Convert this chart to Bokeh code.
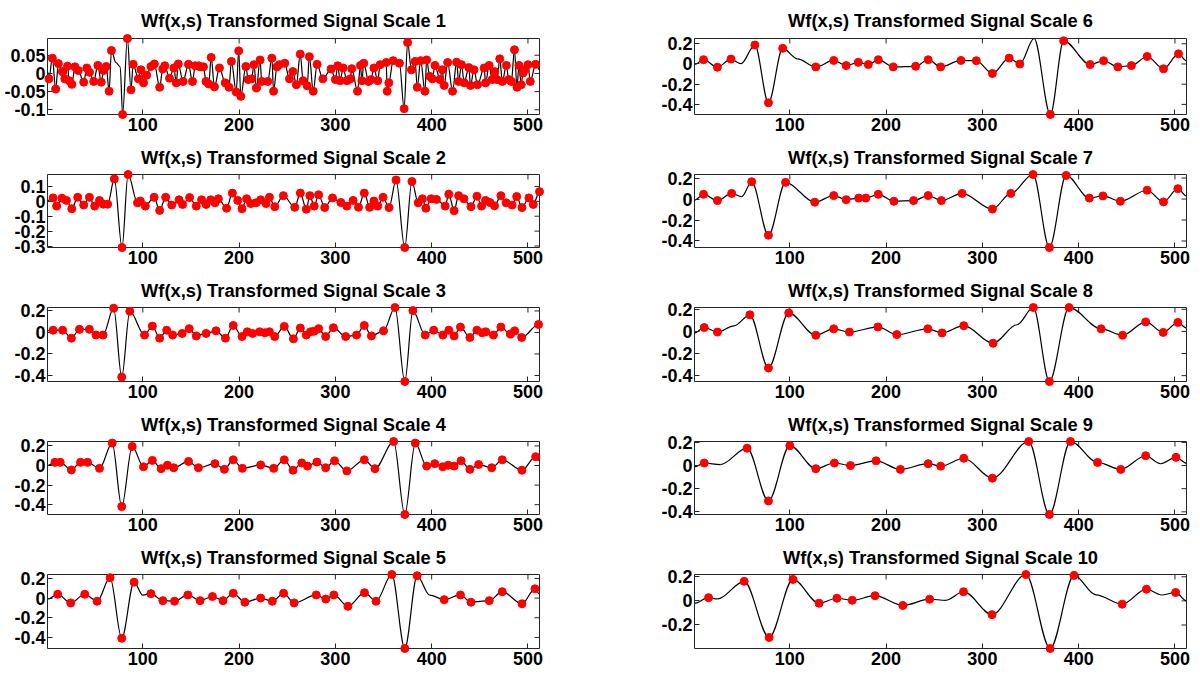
import numpy as np
from bokeh.plotting import figure
from bokeh.layouts import column, row
from bokeh.models import Range1d, FixedTicker, CustomJSTickFormatter
from bokeh.embed import file_html
from bokeh.resources import INLINE

# ---------------- data ----------------
x_ticks = [100, 200, 300, 400, 500]
titles = ["Wf(x,s) Transformed Signal Scale %d" % k for k in range(1, 11)]

# red dots: (position, value) of the extrema of each scale
scale1_pts = [(2.5, -0.015), (6, 0.042), (9.5, -0.043), (12.3, 0.027), (16.5, 0.005), (19, -0.015),
              (21.8, 0.02), (23.5, -0.02), (26.3, -0.03), (29.5, 0.018), (33, 0.008), (38.6, -0.024),
              (41.8, 0.015), (44.6, 0.003), (49, -0.022), (53.3, 0.022), (56.8, -0.024), (59.3, 0.008),
              (62, 0.019), (65, -0.049), (67.4, 0.063), (79, -0.113), (84, 0.096), (87.7, -0.045),
              (90, 0.025), (95.4, -0.015), (98, 0.01), (100.7, -0.026), (104, -0.005), (108.4, 0.019),
              (112, 0.026), (117.5, -0.038), (120.7, 0.012), (122.8, 0.021), (127.7, -0.013), (132.3, 0.015),
              (134.7, -0.026), (136.8, 0.026), (141.8, -0.022), (147.4, 0.025), (151.6, -0.022), (154.4, 0.021),
              (158, 0.021), (159.6, 0.018), (163, 0.018), (165.6, -0.022), (168.5, -0.029), (171, 0.044),
              (174.4, -0.037), (179.6, 0.015), (185.6, -0.026), (189.5, -0.038), (192, 0.033), (197, -0.051),
              (199.6, 0.062), (201.8, -0.063), (207, 0.019), (209.5, -0.017), (213, -0.015), (215.4, 0.024),
              (218, -0.04), (221.8, 0.037), (223.5, -0.022), (229.8, -0.022), (234, 0.042), (235.8, -0.049),
              (239.3, 0.018), (241.8, 0.024), (247.4, 0.028), (252.3, -0.015), (255.8, 0.005), (259.5, -0.031),
              (263.5, 0.053), (266.5, -0.02), (270.7, -0.034), (273, 0.046), (277, -0.049), (281, 0.025),
              (287, -0.015), (295.5, 0.012), (300, -0.017), (302.4, 0.021), (305, -0.02), (308, 0.015),
              (312, -0.02), (315.5, -0.015), (317, 0.013), (323, -0.049), (326, 0.022), (327.5, -0.02),
              (329.5, 0.028), (334.5, -0.022), (337, -0.017), (340, 0.015), (344, -0.02), (346.5, 0.024),
              (352.8, 0.03), (353.8, -0.049), (355.5, -0.026), (360, 0.035), (366.5, 0.028), (371.4, -0.097),
              (375, 0.085), (379, 0.01), (382.8, 0.033), (385, -0.038), (388.6, 0.035), (393, -0.049),
              (394.8, 0.037), (398, -0.008), (400.7, -0.015), (403.4, 0.022), (408.6, -0.017), (411, 0.01),
              (413, -0.033), (416.6, 0.03), (421.7, -0.049), (425.9, 0.031), (428, -0.022), (431, 0.024),
              (433.8, -0.026), (438.6, 0.016), (440.3, -0.033), (444, 0.01), (447.6, -0.031), (454.5, 0.015),
              (456, -0.026), (459.7, 0.022), (462.8, -0.017), (465.5, 0.005), (468, -0.017), (470.7, 0.04),
              (473.4, -0.022), (477.6, 0.022), (480, -0.017), (482.8, -0.022), (486, 0.065), (488.6, -0.038),
              (490.7, 0.022), (493, -0.031), (494.8, 0.001), (497, 0.01), (500, 0.024), (502.4, -0.022),
              (508, 0.025)]
scale2_pts = [(6.8, 0.023), (10.5, -0.032), (16, 0.021), (20.7, 0.006), (26.2, -0.05), (32.4, 0.027),
              (38.6, -0.025), (44.5, 0.027), (50, -0.032), (55, 0.006), (59, -0.019), (63.5, -0.019),
              (70.4, 0.15), (78.4, -0.31), (84.7, 0.18), (94.5, -0.01), (97.4, 0.002), (102.6, -0.032),
              (111.7, 0.027), (117.5, -0.061), (123.7, 0.027), (130, -0.025), (137.6, 0.01), (141.3, -0.021),
              (148.6, 0.025), (155.5, -0.032), (161, 0.01), (165.7, -0.021), (170.5, 0.01), (175, -0.01),
              (178.5, 0.017), (187, -0.046), (193, 0.055), (198.6, 0.006), (203, -0.05), (207.8, 0.017),
              (212, -0.015), (217.6, -0.01), (222.4, 0.01), (228, -0.015), (231.5, 0.027), (237, -0.036),
              (246, 0.038), (257.8, -0.04), (263.6, 0.055), (269.8, -0.053), (273.5, 0.038), (278, -0.032),
              (282.6, 0.044), (288.9, -0.042), (297, 0.023), (305.7, -0.008), (311.9, -0.032), (318.4, 0.006),
              (324, -0.04), (330, 0.055), (335.6, -0.04), (340, 0.002), (344, -0.032), (349.5, 0.027),
              (355.7, -0.042), (363, 0.143), (372, -0.31), (379.5, 0.133), (386, -0.01), (390.4, 0.017),
              (394, -0.046), (399.5, 0.017), (405, 0.013), (414, -0.032), (417.8, 0.048), (423.3, -0.063),
              (428, 0.038), (433.5, 0.017), (440.8, -0.036), (447, 0.034), (451.8, -0.032), (456, 0.006),
              (460.5, -0.008), (465.3, -0.03), (471.9, 0.038), (477.3, -0.01), (483.6, -0.025), (488.3, 0.032),
              (493.8, -0.042), (501, 0.023), (505.5, -0.021), (512, 0.065)]
scale3_pts = [(6.8, 0.021), (16.7, 0.021), (25.8, -0.053), (34.2, 0.029), (44.5, 0.029), (51.4, -0.024),
              (58.7, -0.024), (69.7, 0.226), (78.1, -0.415), (86.5, 0.197), (101.8, -0.024), (109.9, 0.059),
              (117.5, -0.053), (124.8, 0.021), (131, -0.024), (140.9, -0.009), (148.2, 0.035), (155.5, -0.032),
              (165.7, -0.009), (176, 0.015), (185.8, -0.053), (193.9, 0.065), (203, -0.038), (208.5, 0.006),
              (214, -0.009), (221.3, 0.006), (226.8, -0.003), (231.5, 0.006), (237, -0.038), (246.9, 0.056),
              (256.4, -0.059), (263.6, 0.041), (269.8, -0.024), (274.2, 0.006), (277.9, 0.012), (282.6, 0.035),
              (289.9, -0.038), (297.9, 0.044), (310.7, -0.038), (322, -0.024), (330, 0.065), (337.4, -0.032),
              (350, 0.015), (361.9, 0.232), (372.1, -0.456), (380.5, 0.203), (393.3, -0.024), (402.1, 0.021),
              (411.6, -0.024), (417.8, 0.021), (423.3, -0.032), (429.9, 0.05), (439.7, -0.047), (447, 0.021),
              (452.5, -0.003), (456.2, 0.006), (464.2, -0.024), (471.9, 0.05), (481.8, -0.015), (486.2, 0.015),
              (493.5, -0.047), (511, 0.074)]
scale4_pts = [(8.7, 0.032), (14.2, 0.032), (25.8, -0.045), (35.3, 0.032), (42.6, 0.032), (55, -0.029),
              (68.2, 0.229), (78.1, -0.419), (89, 0.194), (100.7, -0.013), (109.9, 0.052), (119, -0.032),
              (125.6, 0.003), (132.1, -0.023), (147.5, 0.042), (157.7, -0.023), (174.9, 0.019), (184.7, -0.039),
              (193.9, 0.058), (203.4, -0.029), (222.4, 0.006), (235.9, -0.029), (246.9, 0.058), (256, -0.048),
              (265.1, 0.026), (271, -0.006), (280.8, 0.035), (289.9, -0.023), (299.1, 0.048), (311.9, -0.055),
              (330, 0.058), (341.1, -0.032), (360.5, 0.245), (372.1, -0.5), (383, 0.229), (394.8, -0.006),
              (403.2, 0.019), (411.6, -0.013), (417.1, 0.003), (423.3, -0.006), (430.6, 0.048), (439.7, -0.039),
              (448.8, 0.01), (462.4, -0.023), (473.3, 0.058), (493.8, -0.048), (508, 0.09)]
scale5_pts = [(11.6, 0.039), (25.1, -0.049), (39.7, 0.039), (52.5, -0.032), (66, 0.208), (78.1, -0.409),
              (90.9, 0.162), (108.4, 0.045), (120.8, -0.026), (132.9, -0.032), (146.8, 0.032), (159.5, -0.026),
              (172.3, 0.016), (183.3, -0.026), (193.9, 0.049), (206, -0.042), (222.4, 0.0), (234.5, -0.032),
              (246.2, 0.049), (257.1, -0.049), (280.1, 0.032), (290, -0.01), (298.4, 0.032), (313, -0.084),
              (330.2, 0.055), (342.2, -0.032), (358.6, 0.24), (372.1, -0.513), (384.9, 0.227), (413, -0.016),
              (429.9, 0.032), (440.8, -0.042), (459.8, -0.026), (473.3, 0.065), (493.8, -0.058), (507.3, 0.094)]
scale6_pts = [(10.4, 0.042), (24.8, -0.032), (38.9, 0.048), (63.7, 0.187), (77.8, -0.384), (92.6, 0.155),
              (127, -0.029), (145.6, 0.035), (158.5, -0.016), (171.1, 0.016), (181.5, -0.006), (191.9, 0.042),
              (207.4, -0.029), (230.7, -0.023), (243.7, 0.042), (256.7, -0.029), (277.8, 0.035), (293.7, 0.032),
              (310.4, -0.094), (327.8, 0.058), (338.9, 0.0), (370.6, -0.5), (384.4, 0.229), (411.9, -0.006),
              (425.9, 0.032), (440.7, -0.029), (454.8, -0.016), (471.1, 0.074), (488.1, -0.048), (503.7, 0.1)]
scale7_pts = [(10.4, 0.045), (24.8, -0.015), (39.6, 0.054), (60.4, 0.165), (77.8, -0.345), (95.6, 0.159),
              (125.9, -0.03), (145.6, 0.033), (158.5, -0.006), (171.5, 0.009), (178.9, 0.009), (191.9, 0.045),
              (208.1, -0.021), (228.5, -0.015), (243.7, 0.033), (257.4, -0.015), (278.9, 0.054), (310.4, -0.096),
              (329.6, 0.054), (352.6, 0.234), (369.6, -0.462), (387, 0.225), (411.1, 0.009), (425.2, 0.03),
              (443.3, -0.021), (471.1, 0.084), (488.1, -0.027), (503, 0.099)]
scale8_pts = [(11.1, 0.035), (24.8, -0.006), (58.5, 0.15), (77.8, -0.331), (98.9, 0.167), (127, -0.035),
              (145.6, 0.023), (161.9, -0.006), (191.5, 0.04), (211.1, -0.029), (243.3, 0.023), (258.1, -0.014),
              (280.7, 0.052), (311.1, -0.107), (352.9, 0.216), (369.6, -0.453), (390, 0.216), (423.3, 0.023),
              (445.6, -0.035), (469.6, 0.086), (487.8, -0.009), (503, 0.081)]
scale9_pts = [(11.1, 0.022), (55.6, 0.15), (77.8, -0.306), (100, 0.172), (127, -0.027), (146.3, 0.022),
              (163, 0.0), (189.6, 0.041), (214.8, -0.033), (243.7, 0.016), (256.7, -0.005), (280.7, 0.063),
              (310.4, -0.109), (348.1, 0.208), (369.6, -0.423), (391.5, 0.208), (419.6, 0.027), (443.7, -0.033),
              (469.6, 0.085), (501.1, 0.071)]
scale10_pts = [(15.6, 0.027), (52.6, 0.162), (78.5, -0.303), (103.3, 0.178), (130.4, -0.019), (148.9, 0.022),
               (164.8, 0.005), (188.5, 0.043), (217.4, -0.038), (245.2, 0.014), (280.4, 0.076), (310, -0.114),
               (345.2, 0.219), (370.4, -0.395), (395.2, 0.211), (445.2, -0.027), (470.4, 0.097), (500.7, 0.07)]

# extra points of the black curve (ends, shoulders, undotted turns)
scale1_curve = [(1, 0.005), (72, 0.03), (76.5, 0.018), (512, 0.01)]
scale2_curve = [(1, 0.005)]
scale3_curve = [(1, 0.015), (512, 0.065)]
scale4_curve = [(1, 0.0), (512, 0.05)]
scale5_curve = [(1, -0.01), (100, 0.03), (398, 0.03), (512, 0.04)]
scale6_curve = [(1, -0.005), (49.3, 0.003), (108, 0.05), (353.7, 0.252), (512, 0.03)]
scale7_curve = [(1, -0.01), (50, 0.024), (512, 0.03)]
scale8_curve = [(1, -0.015), (42, 0.05), (336, 0.06), (512, 0.03)]
scale9_curve = [(1, -0.011), (27.8, 0.008), (485, 0.016), (512, 0.02)]
scale10_curve = [(1, -0.019), (25, 0.016), (262, 0.005), (418, 0.05), (486, 0.049), (512, 0.0)]

y_ticks_s1 = [-0.1, -0.05, 0, 0.05]
y_ticks_s2 = [-0.3, -0.2, -0.1, 0, 0.1]
y_ticks_mid = [-0.4, -0.2, 0, 0.2]
y_ticks_s10 = [-0.2, 0, 0.2]

dots = [scale1_pts, scale2_pts, scale3_pts, scale4_pts, scale5_pts,
        scale6_pts, scale7_pts, scale8_pts, scale9_pts, scale10_pts]
curves = [scale1_curve, scale2_curve, scale3_curve, scale4_curve, scale5_curve,
          scale6_curve, scale7_curve, scale8_curve, scale9_curve, scale10_curve]
yticks = [y_ticks_s1, y_ticks_s2] + [y_ticks_mid] * 7 + [y_ticks_s10]

FONT = "Liberation Sans"
AX = "#262626"
fmt = CustomJSTickFormatter(code="return String(Math.round(tick*1000)/1000);")

ROW_H = [138, 133, 134, 133, 134]
ROW_TOP = [37, 33, 33, 33, 33]
TITLE_GAP = [15, 13, 13, 13, 13]


def make_panel(i, left, r):
    pts = dots[i]
    allp = sorted(pts + curves[i])
    cx = np.array([p[0] for p in allp], dtype=float)
    cy = np.array([p[1] for p in allp], dtype=float)
    ymin, ymax = cy.min(), cy.max()
    if left:
        w, bl, br = 647, 47, 108
    else:
        w, bl, br = 552, 47, 13
    p = figure(width=w, height=ROW_H[r], x_range=Range1d(1, 512), y_range=Range1d(ymin, ymax),
               output_backend="svg", toolbar_location=None, title=titles[i],
               min_border_left=bl, min_border_right=br, min_border_top=ROW_TOP[r], min_border_bottom=24)
    p.title.text_font = FONT
    p.title.text_font_size = "18.3px"
    p.title.text_font_style = "bold"
    p.title.text_color = "black"
    p.title.text_line_height = 0.9
    p.title.align = "center"
    p.title.standoff = TITLE_GAP[r]
    p.grid.visible = False
    p.background_fill_color = "white"
    p.border_fill_color = "white"
    p.outline_line_color = AX
    p.outline_line_width = 1

    for ax in (p.xaxis[0], p.yaxis[0]):
        ax.axis_line_color = None
        ax.major_tick_in = 5
        ax.major_tick_out = 0
        ax.major_tick_line_color = AX
        ax.minor_tick_line_color = None
        ax.major_label_text_font = FONT
        ax.major_label_text_font_size = "18px"
        ax.major_label_text_font_style = "bold"
        ax.major_label_text_color = "black"
    p.xaxis[0].ticker = FixedTicker(ticks=x_ticks)
    p.xaxis[0].major_label_standoff = 3
    p.yaxis[0].ticker = FixedTicker(ticks=yticks[i])
    p.yaxis[0].formatter = fmt
    p.yaxis[0].major_label_standoff = 2

    # mirrored inside ticks on the top and right edges of the box
    p.ray(x=x_ticks, y=[ymax] * len(x_ticks), length=5, length_units="screen",
          angle=-np.pi / 2, line_color=AX, line_width=1)
    p.ray(x=[512] * len(yticks[i]), y=yticks[i], length=5, length_units="screen",
          angle=np.pi, line_color=AX, line_width=1)

    # smooth curve through the points (flat tangents at each point)
    x0, x1 = cx[:-1], cx[1:]
    y0, y1 = cy[:-1], cy[1:]
    dx = (x1 - x0) / 3.0
    p.bezier(x0=x0, y0=y0, x1=x1, y1=y1, cx0=x0 + dx, cy0=y0, cx1=x1 - dx, cy1=y1,
             line_color="black", line_width=1.2)
    p.scatter([q[0] for q in pts], [q[1] for q in pts], size=8, fill_color="#ff0000",
              line_color="#ff0000", level="overlay")
    return p


rows = []
for r in range(5):
    rows.append(row(make_panel(r, True, r), make_panel(r + 5, False, r)))
layout = column(*rows)

open("out.html", "w").write(file_html(layout, INLINE))
